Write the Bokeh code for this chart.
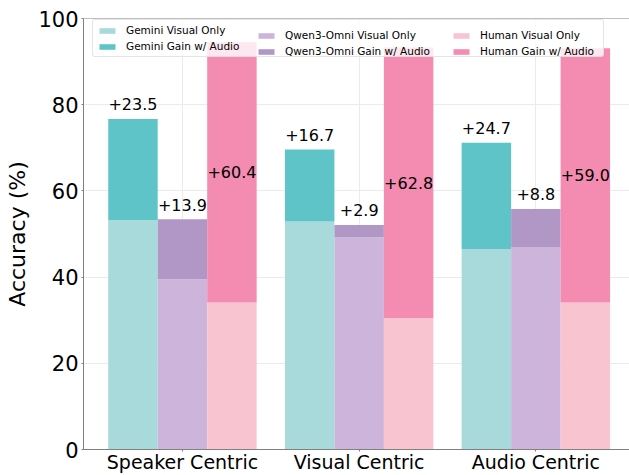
import numpy as np
from bokeh.plotting import figure
from bokeh.models import (Range1d, FixedTicker, Legend, LegendItem, ColumnDataSource, Span)
from bokeh.core.properties import value
from bokeh.embed import file_html
from bokeh.resources import INLINE

# ---------------- data ----------------
categories = ["Speaker Centric", "Visual Centric", "Audio Centric"]
models = ["Gemini", "Qwen3-Omni", "Human"]
gemini_visual = [53.2, 52.9, 46.5]
gemini_gain = [23.5, 16.7, 24.7]
qwen_visual = [39.5, 49.2, 47.0]
qwen_gain = [13.9, 2.9, 8.8]
human_visual = [34.1, 30.5, 34.1]
human_gain = [60.4, 62.8, 59.0]
y_ticks = [0, 20, 40, 60, 80, 100]

# ---------------- style ----------------
FONT = "DejaVu Sans"
light_colors = ["#a8dadc", "#cdb4db", "#f8c4d0"]
dark_colors = ["#5ec4c8", "#b197c6", "#f48bb1"]
bar_width = 0.28
offsets = [-0.28, 0.0, 0.28]
W, H = 629, 475
TOP, BOTTOM, LEFT = 18, 24, 83
frame_h = H - TOP - BOTTOM
leg_pad, leg_row, leg_sp = 4, 12, 4
leg_h = 2 * leg_row + leg_sp + 2 * leg_pad
leg_y = frame_h - 5 - leg_h
legend_x = [9, 173, 368]

visual_all = [gemini_visual, qwen_visual, human_visual]
gain_all = [gemini_gain, qwen_gain, human_gain]

p = figure(width=W, height=H, output_backend="svg", toolbar_location=None,
           x_range=Range1d(-0.56, 2.53), y_range=Range1d(0, 100),
           min_border=0, min_border_left=LEFT, min_border_top=TOP,
           min_border_right=0, min_border_bottom=BOTTOM)
p.background_fill_color = "white"
p.border_fill_color = "white"
p.outline_line_color = None

idx = np.arange(len(categories))
legends = []
for j, model in enumerate(models):
    vis = np.array(visual_all[j], dtype=float)
    gain = np.array(gain_all[j], dtype=float)
    x = idx + offsets[j]
    src = ColumnDataSource(dict(x=x, vis=vis, total=vis + gain, gain=gain))
    r_vis = p.vbar(x="x", bottom=0, top="vis", width=bar_width, source=src,
                   fill_color=light_colors[j], line_color=None)
    r_gain = p.vbar(x="x", bottom="vis", top="total", width=bar_width, source=src,
                    fill_color=dark_colors[j], line_color=None)
    labels = ["+%.1f" % g for g in gain]
    if model == "Human":
        tsrc = ColumnDataSource(dict(x=x, y=vis + gain / 2.0, t=labels))
        p.text(x="x", y="y", text="t", source=tsrc, text_font=value(FONT),
               text_font_size="16px", text_align="center", text_baseline="middle",
               text_color="black")
    else:
        tsrc = ColumnDataSource(dict(x=x, y=vis + gain + 2.0, t=labels))
        p.text(x="x", y="y", text="t", source=tsrc, text_font=value(FONT),
               text_font_size="16px", text_align="center", text_baseline="bottom",
               text_color="black")
    legends.append(Legend(items=[
        LegendItem(label=f"{model} Visual Only", renderers=[r_vis]),
        LegendItem(label=f"{model} Gain w/ Audio", renderers=[r_gain]),
    ], location=(legend_x[j], leg_y), orientation="vertical"))

# axes
p.xaxis.ticker = FixedTicker(ticks=list(idx))
p.xaxis.major_label_overrides = {int(i): c for i, c in zip(idx, categories)}
p.xaxis.major_label_text_font = FONT
p.xaxis.major_label_text_font_size = "19px"
p.xaxis.major_label_text_color = "black"
p.xaxis.major_tick_out = 2
p.xaxis.major_tick_in = 0
p.xaxis.major_label_standoff = -1
p.xaxis.minor_tick_line_color = None

p.yaxis.ticker = FixedTicker(ticks=y_ticks)
p.yaxis.major_label_text_font = FONT
p.yaxis.major_label_text_font_size = "21px"
p.yaxis.major_label_text_color = "black"
p.yaxis.major_tick_out = 2
p.yaxis.major_tick_in = 0
p.yaxis.major_label_standoff = 3
p.yaxis.minor_tick_line_color = None
p.yaxis.axis_label = "Accuracy (%)"
p.yaxis.axis_label_text_font = FONT
p.yaxis.axis_label_text_font_size = "22px"
p.yaxis.axis_label_text_font_style = "normal"
p.yaxis.axis_label_text_color = "black"
p.yaxis.axis_label_standoff = 5

for ax in (p.xaxis, p.yaxis):
    ax.axis_line_color = "#808080"
    ax.major_tick_line_color = "#808080"

p.xgrid.grid_line_color = "#ebebeb"
p.ygrid.grid_line_color = "#ebebeb"

p.add_layout(Span(location=y_ticks[-1], dimension="width", line_color="#808080", line_width=1))

for j, lg in enumerate(legends):
    lg.margin = 0
    lg.padding = leg_pad
    lg.spacing = leg_sp
    lg.label_height = leg_row
    lg.glyph_height = 7
    lg.glyph_width = 20
    lg.label_standoff = 9
    lg.label_text_font = FONT
    lg.label_text_font_size = "10.5px"
    lg.label_text_color = "black"
    if j == 0:
        lg.label_width = 473
        lg.border_line_color = "#cccccc"
        lg.border_line_width = 1
        lg.background_fill_color = "white"
        lg.background_fill_alpha = 0.8
        if "border_radius" in lg.properties():
            lg.border_radius = 3
    else:
        lg.border_line_color = None
        lg.background_fill_alpha = 0
    p.add_layout(lg, "center")

open("out.html", "w").write(file_html(p, INLINE))
